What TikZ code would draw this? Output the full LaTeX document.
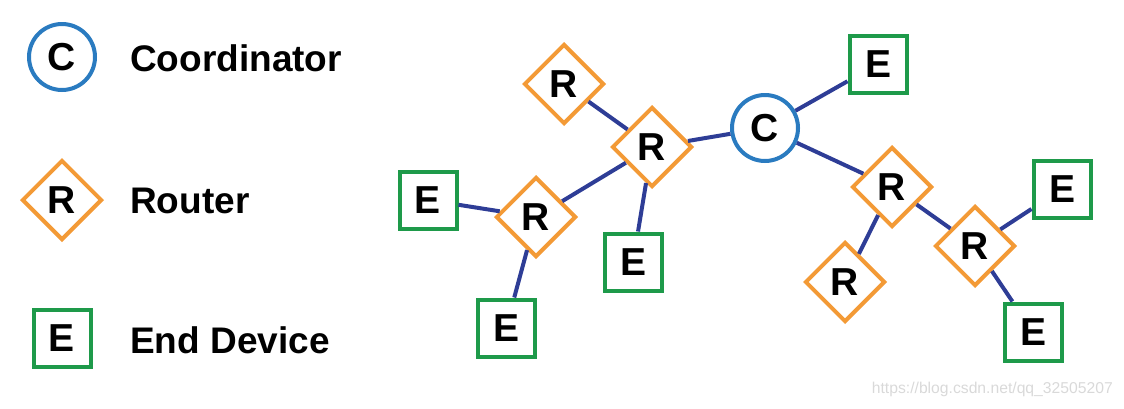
\documentclass[tikz,border=0pt]{standalone}
\usepackage{fontspec}
\setmainfont{Liberation Sans}
\usetikzlibrary{shapes.geometric}
\definecolor{cblue}{HTML}{2A7BC0}
\definecolor{rorange}{HTML}{F39A36}
\definecolor{egreen}{HTML}{1E9A4A}
\definecolor{linkblue}{HTML}{2E3D96}
\definecolor{wmgray}{HTML}{D9D9D9}
\tikzset{
  lbl/.style={font=\fontsize{37}{40}\selectfont\bfseries, inner sep=0pt},
  shapelbl/.style={font=\fontsize{39}{42}\selectfont\bfseries, inner sep=0pt},
  coord/.style={circle, draw=cblue, line width=4pt, fill=white, minimum size=66pt, shapelbl},
  router/.style={diamond, aspect=1, draw=rorange, line width=4pt, fill=white, minimum size=80pt, shapelbl},
  enddev/.style={rectangle, draw=egreen, line width=4pt, fill=white, minimum size=57pt, shapelbl},
  legendtext/.style={lbl, anchor=base west},
  link/.style={draw=linkblue, line width=4pt}
}
\begin{document}
\begin{tikzpicture}[x=1pt,y=-1pt]
\useasboundingbox (0,0) rectangle (1124,408);
% legend
\node[coord] (lc) at (62,57) {C};
\node[router] (lr) at (62,200) {R};
\node[enddev] (le) at (62,338) {E};
\node[legendtext] (tc) at (130,71) {Coordinator};
\node[legendtext] (tr) at (130,213) {Router};
\node[legendtext] (te) at (130,353) {End Device};
% network
\node[router] (rtop) at (564,84) {R};
\node[router] (rmid) at (652,147) {R};
\node[router] (rleft) at (536,217) {R};
\node[enddev] (eleft) at (428,200) {E};
\node[enddev] (emid) at (633,262) {E};
\node[enddev] (ebot) at (506,328) {E};
\node[coord] (c) at (765,128) {C};
\node[enddev] (etop) at (878,64) {E};
\node[router] (rr1) at (892,187) {R};
\node[router] (rlow) at (845,282) {R};
\node[router] (rr2) at (975,246) {R};
\node[enddev] (ert) at (1062,189) {E};
\node[enddev] (erb) at (1033,332) {E};
% links
\path[link] (rtop) -- (rmid);
\path[link] (rmid) -- (c);
\path[link] (rmid) -- (rleft);
\path[link] (rmid) -- (emid);
\path[link] (rleft) -- (eleft);
\path[link] (rleft) -- (ebot);
\path[link] (c) -- (etop);
\path[link] (c) -- (rr1);
\path[link] (rr1) -- (rlow);
\path[link] (rr1) -- (rr2);
\path[link] (rr2) -- (ert);
\path[link] (rr2) -- (erb);
% watermark
\node[anchor=base east, inner sep=0pt, text=wmgray, font=\fontsize{15.7}{18}\selectfont] (wm) at (1113,393) {https://blog.csdn.net/qq\_32505207};
\end{tikzpicture}
\end{document}
